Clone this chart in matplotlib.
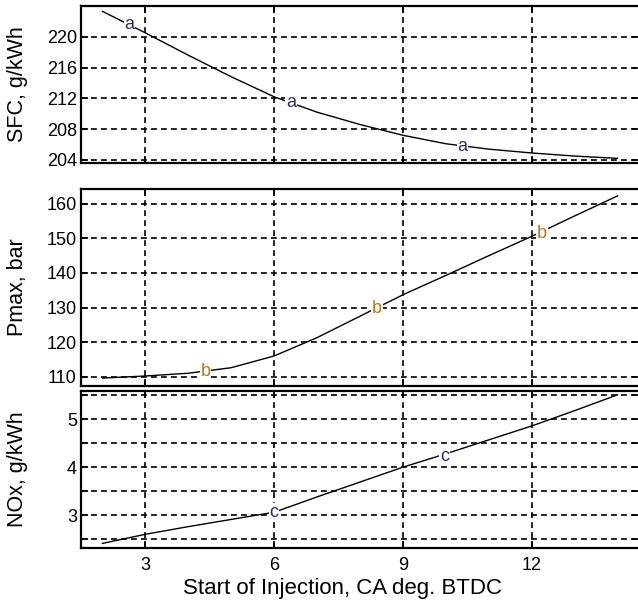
import numpy as np
import matplotlib
matplotlib.use('Agg')
import matplotlib.pyplot as plt

plt.rcParams['font.family'] = ['Liberation Sans', 'DejaVu Sans']
plt.rcParams['font.size'] = 13

# start of injection, CA deg. BTDC
soi = [2, 3, 4, 5, 6, 7, 8, 9, 10, 11, 12, 13, 14]

# specific fuel consumption, g/kWh
sfc = [223.3, 220.5, 217.6, 214.8, 212.2, 210.2, 208.6, 207.2, 206.1, 205.4, 204.9, 204.5, 204.2]
# peak cylinder pressure, bar
pmax = [109.6, 110.2, 111.0, 112.6, 116.0, 121.3, 127.5, 133.7, 139.3, 145.0, 150.6, 156.5, 162.3]
# NOx emissions, g/kWh
nox = [2.41, 2.60, 2.76, 2.91, 3.06, 3.38, 3.69, 4.00, 4.28, 4.57, 4.86, 5.18, 5.51]

# inline curve labels (x, y, text)
sfc_labels = [(2.63, 221.6, 'a'), (6.39, 211.4, 'a'), (10.39, 205.8, 'a')]
pmax_labels = [(4.4, 111.5, 'b'), (8.4, 129.8, 'b'), (12.24, 151.5, 'b')]
nox_labels = [(6.0, 3.06, 'c'), (9.97, 4.23, 'c')]
label_colors = {'a': '#2e2e6e', 'b': '#b8761e', 'c': '#2e2e6e'}

x_ticks = [3, 6, 9, 12]

fig = plt.figure(figsize=(6.38, 6.03), dpi=100)
ax1 = fig.add_axes([0.127, 0.7297, 0.8746, 0.2604])
ax2 = fig.add_axes([0.127, 0.3604, 0.8746, 0.3262])
ax3 = fig.add_axes([0.127, 0.0917, 0.8746, 0.2599])

panels = [
    (ax1, sfc, sfc_labels, (203.6, 224.0), [204, 208, 212, 216, 220], [204, 208, 212, 216, 220], 'SFC, g/kWh'),
    (ax2, pmax, pmax_labels, (107.4, 164.3), [110, 120, 130, 140, 150, 160], [110, 120, 130, 140, 150, 160], 'Pmax, bar'),
    (ax3, nox, nox_labels, (2.32, 5.59), [2.5, 3, 3.5, 4, 4.5, 5, 5.5], [3, 4, 5], 'NOx, g/kWh'),
]

for ax, vals, labels, ylim, grid_y, tick_y, ylabel in panels:
    ax.plot(soi, vals, color='black', lw=1.0, zorder=3)
    for x, y, s in labels:
        ax.text(x, y, s, ha='center', va='center', fontsize=13,
                color=label_colors[s], zorder=4,
                bbox=dict(facecolor='white', edgecolor='none', pad=0.5))
    ax.set_xlim(1.5, 14.5)
    ax.set_ylim(*ylim)
    ax.set_xticks(x_ticks)
    ax.set_yticks(grid_y)
    ax.set_yticklabels([str(int(v)) if v in tick_y else '' for v in grid_y])
    ax.grid(True, color='black', ls=(0, (3.5, 2.5)), lw=1.2)
    ax.tick_params(direction='in', length=5, width=1.2, top=True, right=True,
                   labelsize=13)
    ax.tick_params(axis='y', pad=3)
    ax.tick_params(axis='x', pad=7)
    for sp in ax.spines.values():
        sp.set_linewidth(1.6)
    ax.set_ylabel(ylabel, fontsize=15.5)
    ax.yaxis.set_label_coords(-0.095, 0.5)

ax1.tick_params(labelbottom=False)
ax2.tick_params(labelbottom=False)
ax3.set_xlabel('Start of Injection, CA deg. BTDC', fontsize=16, labelpad=3)
ax3.xaxis.set_label_coords(0.468, -0.195)

fig.savefig('out.png', dpi=100)
